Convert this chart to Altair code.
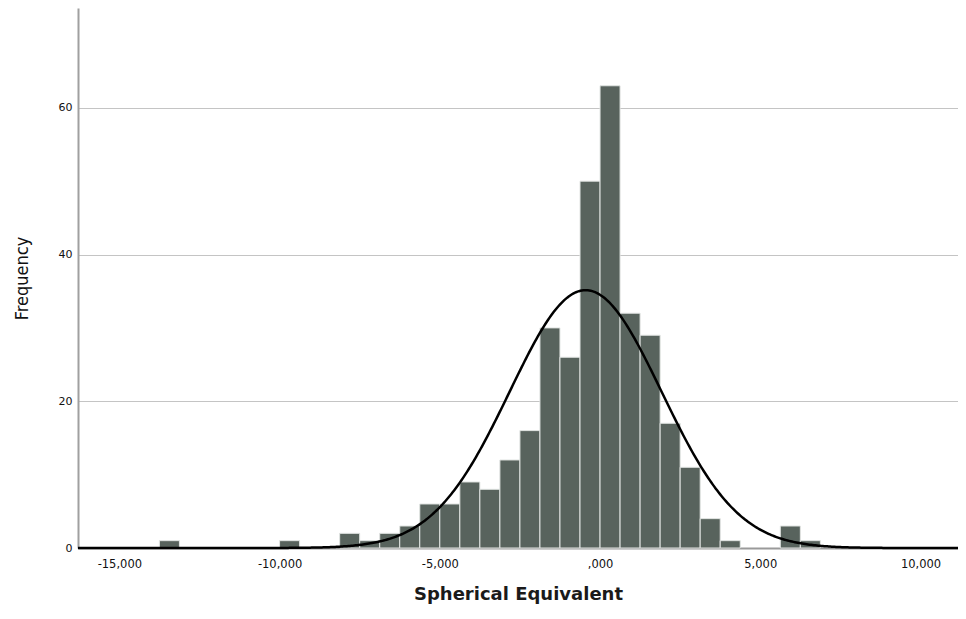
import altair as alt
import numpy as np
import pandas as pd

# Histogram bins (diopters), bin width 0.625
bin_width = 0.625
bin_start = [-13.75, -10.0, -8.125, -7.5, -6.875, -6.25, -5.625, -5.0, -4.375, -3.75,
             -3.125, -2.5, -1.875, -1.25, -0.625, 0.0, 0.625, 1.25, 1.875, 2.5,
             3.125, 3.75, 5.625, 6.25]
counts = [1, 1, 2, 1, 2, 3, 6, 6, 9, 8,
          12, 16, 30, 26, 50, 63, 32, 29, 17, 11,
          4, 1, 3, 1]

# Fitted normal curve parameters
fit_mean = -0.45
fit_sd = 2.37
n_total = sum(counts)

x_ticks = [-15, -10, -5, 0, 5, 10]
y_ticks = [0, 20, 40, 60]
x_domain = [-16.29, 11.17]
y_domain = [0, 73.6]

bars = pd.DataFrame({
    "start": bin_start,
    "end": [s + bin_width for s in bin_start],
    "count": counts,
    "base": [0] * len(counts),
})

xs = np.linspace(x_domain[0], x_domain[1], 600)
curve = pd.DataFrame({
    "x": xs,
    "y": n_total * bin_width / (fit_sd * np.sqrt(2 * np.pi)) * np.exp(-0.5 * ((xs - fit_mean) / fit_sd) ** 2),
})

label_expr = ("datum.value == 0 ? ',000' : (datum.value < 0 ? '-' : '') + "
              "replace(format(abs(datum.value), '.3f'), '.', ',')")

x_scale = alt.Scale(domain=x_domain, nice=False, zero=False)
y_scale = alt.Scale(domain=y_domain, nice=False)

bar_layer = alt.Chart(bars).mark_bar(
    color="#58635d", stroke="#e2e5e3", strokeWidth=1
).encode(
    x=alt.X("start:Q", scale=x_scale,
            axis=alt.Axis(values=x_ticks, labelExpr=label_expr, title="Spherical Equivalent",
                          grid=False, ticks=False, domainColor="#9a9a9a", domainWidth=2,
                          labelFont="DejaVu Sans", labelFontSize=11.5, labelColor="#111111",
                          labelPadding=10,
                          titleFont="DejaVu Sans", titleFontSize=18, titleFontWeight=600,
                          titleColor="#1a1a1a", titlePadding=16)),
    x2="end:Q",
    y=alt.Y("count:Q", scale=y_scale,
            axis=alt.Axis(values=y_ticks, title="Frequency", grid=True, gridColor="#c4c4c4",
                          gridWidth=1, ticks=False, domainColor="#a0a0a0", domainWidth=2,
                          labelFont="DejaVu Sans", labelFontSize=11, labelColor="#111111",
                          labelPadding=6,
                          titleFont="Liberation Sans Narrow, DejaVu Sans Condensed, sans-serif",
                          titleFontSize=18, titleFontWeight="normal", titleColor="#111111",
                          titlePadding=27)),
    y2="base:Q",
)

line_layer = alt.Chart(curve).mark_line(color="#000000", strokeWidth=2.5).encode(
    x=alt.X("x:Q", scale=x_scale),
    y=alt.Y("y:Q", scale=y_scale),
)

chart = alt.layer(bar_layer, line_layer).properties(
    width=880, height=540,
    autosize=alt.AutoSizeParams(type="none"),
    padding={"left": 70, "top": 0, "right": 0, "bottom": 56},
).configure_view(stroke=None)

chart.save("out.html", embed_options={"renderer": "svg", "actions": False})
